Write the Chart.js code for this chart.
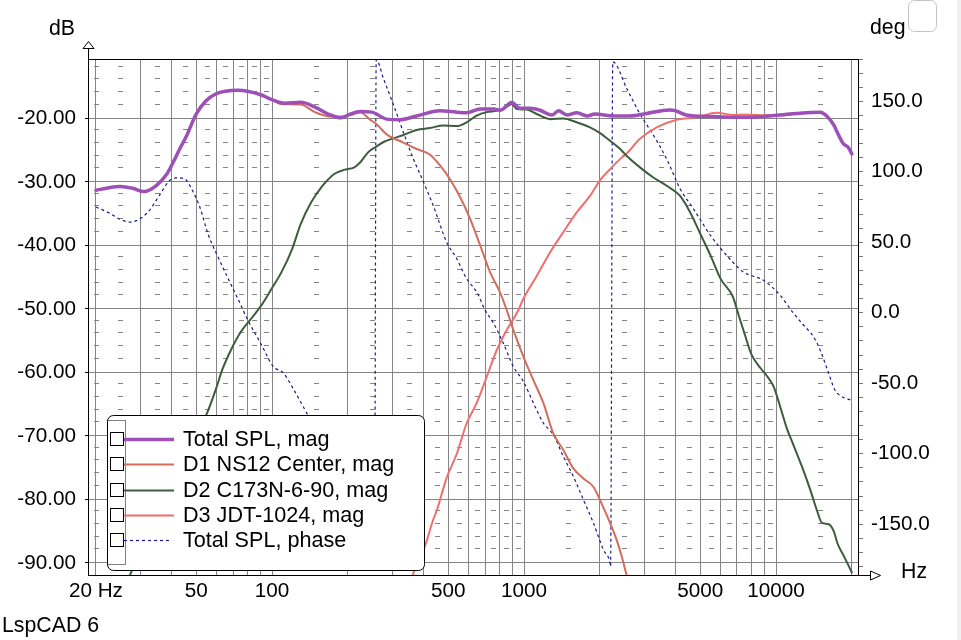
<!DOCTYPE html>
<html>
<head>
<meta charset="utf-8">
<title>LspCAD 6</title>
<script src="https://cdn.jsdelivr.net/npm/chart.js@4.4.1/dist/chart.umd.min.js"></script>
<style>
html, body { margin: 0; padding: 0; background: #fff; }
#wrap { position: relative; width: 961px; height: 640px; overflow: hidden; }
</style>
</head>
<body>
<div id="wrap"><canvas id="chart" width="961" height="640"></canvas></div>
<script>
// оси и сетка
const gridFreqs = [20, 30, 40, 50, 60, 70, 80, 90, 100, 200, 300, 400, 500, 600, 700, 800, 900,
    1000, 2000, 3000, 4000, 5000, 6000, 7000, 8000, 9000, 10000, 20000];
const freqLabelValues = [20, 50, 100, 500, 1000, 5000, 10000];
const freqLabelTexts = ['20 Hz', '50', '100', '500', '1000', '5000', '10000'];
const dBTicks = [-90, -80, -70, -60, -50, -40, -30, -20];
const degTicks = [-180, -170, -160, -150, -140, -130, -120, -110, -100, -90, -80, -70, -60, -50, -40, -30, -20, -10,
    0, 10, 20, 30, 40, 50, 60, 70, 80, 90, 100, 110, 120, 130, 140, 150, 160, 170, 180];
const degLabelValues = [-150, -100, -50, 0, 50, 100, 150];
// мелкие штрихи сетки
const dashFreqs = [20, 25, 35, 45, 55, 65, 75, 85, 95, 150, 250, 350, 450, 550, 650, 750, 850, 950,
    1500, 2500, 3500, 4500, 5500, 6500, 7500, 8500, 9500, 15000];
const dashDb = [-88, -86, -84, -82, -78, -76, -74, -72, -68, -66, -64, -62, -58, -56, -54, -52,
    -48, -46, -44, -42, -38, -36, -34, -32, -28, -26, -24, -22, -18, -16, -14, -12];

// Total SPL, mag
const totalFreq = [20, 22.5, 25, 28, 31, 34.6, 38.3, 40.5, 43, 45.8, 50, 54.7, 60, 65.3, 73.2, 80, 90.8, 99.3,
    112, 130, 148, 167, 188, 204, 224, 249, 285, 322, 375, 464, 541, 592, 669, 760, 803, 894, 964, 1056,
    1157, 1290, 1370, 1480, 1620, 1780, 1910, 2260, 2630, 3060, 3780, 4010, 4400, 5610, 6740, 8110,
    10390, 12090, 14950, 15900, 17000, 17460, 18450, 19400, 20000];
const totalMag = [-31.3, -30.9, -30.7, -31.0, -31.5, -30.6, -28.7, -26.9, -24.8, -22.7, -19.3, -17.2, -16.1, -15.7, -15.55, -15.7, -16.3, -17.0,
    -17.6, -17.45, -18.2, -19.3, -19.9, -19.3, -18.9, -19.0, -20.1, -20.2, -19.6, -18.8, -19.0, -19.1, -18.5, -18.5, -18.7, -17.5, -18.4, -18.4,
    -18.7, -19.45, -18.8, -19.45, -19.1, -19.6, -19.3, -19.6, -19.6, -19.2, -18.65, -18.8, -19.45, -19.7, -19.8, -19.8,
    -19.45, -19.2, -19.0, -19.6, -21.1, -22.1, -23.9, -24.6, -25.6];

// D1 NS12 Center, mag
const d1Freq = [20, 22.5, 25, 28, 31, 34.6, 38.3, 40.5, 43, 45.8, 50, 54.7, 60, 65.3, 73.2, 80, 90.8, 99.3,
    108, 130, 148, 172, 193, 212, 224, 245, 260, 285, 332, 375, 424, 464, 509, 558, 611, 670, 733, 803,
    854, 907, 994, 1089, 1193, 1307, 1432, 1569, 1720, 1884, 2003, 2195, 2333, 2443, 2541, 2620];
const d1Mag = [-31.3, -30.9, -30.7, -31.0, -31.5, -30.6, -28.7, -26.9, -24.8, -22.7, -19.3, -17.2, -16.1, -15.7, -15.55, -15.7, -16.3, -17.0,
    -17.7, -17.8, -19.0, -19.7, -19.65, -19.3, -19.0, -20.2, -20.9, -22.5, -23.8, -24.8, -25.7, -27.4, -29.6, -32.4, -35.8, -40.0, -44.2, -47.4,
    -50.2, -53.3, -57.5, -61.2, -64.8, -69.6, -72.2, -75.1, -76.7, -78.0, -80.1, -83.7, -86.4, -89.0, -91.6, -93.5];

// D2 C173N-6-90, mag
const d2Freq = [26.5, 27.5, 30, 35, 40, 45, 50, 55.2, 60, 63.4, 68.6, 75.2, 82.7, 90.8, 99.3, 109, 120, 130,
    143, 157, 167, 177, 193, 212, 224, 241, 260, 277, 304, 332, 375, 424, 478, 541, 592, 649, 711, 779,
    827, 894, 935, 1025, 1123, 1268, 1432, 1618, 1827, 2003, 2195, 2390, 2557, 2885, 3261, 3684, 4162,
    4566, 5011, 5500, 6037, 6730, 7100, 7530, 8000, 8675, 9220, 9780, 10390, 11040, 11720, 12670,
    13680, 14530, 15220, 16190, 16990, 17530, 18640, 20000];
const d2Mag = [-94, -91.6, -88.5, -83, -78, -73.5, -69.8, -66.4, -62.5, -59.6, -56.5, -53.6, -51.5, -49.4, -46.9, -44.2, -40.6, -36.6,
    -33.2, -30.8, -29.6, -28.7, -28.1, -27.7, -26.9, -25.3, -24.4, -23.7, -23.1, -22.6, -21.8, -21.5, -21.1, -21.2, -20.6, -19.55, -19.0, -18.8,
    -18.5, -17.7, -18.5, -18.6, -19.3, -20.1, -20.0, -20.6, -21.4, -22.3, -23.5, -24.7, -25.9, -27.7, -29.3, -30.6, -32.2,
    -34.8, -38.2, -41.6, -45.3, -48.0, -50.9, -54.1, -57.2, -59.3, -60.6, -62.2, -65.4, -68.8, -71.4, -74.8,
    -78.5, -81.7, -83.7, -83.9, -85.1, -86.9, -89.0, -91.5];

// D3 JDT-1024, mag
const d3Freq = [350, 364, 404, 436, 451, 493, 541, 592, 649, 711, 779, 854, 907, 949, 994, 1123, 1268, 1432,
    1618, 1827, 2003, 2195, 2403, 2557, 2885, 3362, 4036, 4846, 5820, 6780, 7657, 9194, 10390, 12090,
    14950, 15900, 17000, 17460, 18450, 19400, 20000];
const d3Mag = [-95, -91.6, -87.4, -83.2, -81.7, -76.6, -72.8, -68.0, -64.8, -60.7, -56.5, -53.3, -51.6, -50.2, -48.4, -44.8, -41.1, -37.9,
    -34.8, -32.2, -29.7, -28.0, -26.4, -25.5, -23.2, -21.4, -20.2, -19.8, -19.1, -19.45, -19.4, -19.5, -19.5, -19.25,
    -19.05, -19.65, -21.15, -22.15, -23.95, -24.65, -25.65];

// Total SPL, phase (правая ось, градусы)
const phaseFreq = [20, 22.5, 25, 27.4, 29.6, 32.3, 35.7, 39.2, 41.7, 45, 48.3, 51.4, 56, 61.5, 67, 73.2, 80, 90.8,
    101, 111, 122, 135, 160, 200, 230, 255, 259, 277, 304, 332, 364, 399, 436, 493, 541, 592, 649, 700,
    756, 827, 907, 994, 1089, 1193, 1307, 1432, 1569, 1720, 1884, 2064, 2195, 2205, 2250, 2557, 2885,
    3261, 3684, 4162, 4700, 5500, 6378, 7426, 8949, 10390, 11720, 12820, 14060, 14950, 16090, 17110,
    18230, 19730, 20000];
const phaseDeg = [75.0, 70.9, 66.2, 64.3, 66.2, 71.8, 83.2, 93.8, 95.7, 95.0, 86.7, 76.1, 54.8, 38.3, 24.1, 9.9, -5, -22.7,
    -38.1, -42.8, -54.6, -68.8, -92, -128, -155, -181, 179.5, 166, 147, 128, 109, 92.7, 76.1, 50.1, 38.3, 24.1, 14.7, 2.1,
    -7.3, -21.5, -38.1, -48.7, -64, -78.2, -86.5, -101.9, -116, -132.6, -149, -168, -177.5, -180, 178, 159, 141,
    126, 109, 88, 73.8, 54.8, 40.6, 28.9, 22.9, 12.3, -0.2, -8.5, -16.8, -26.2, -41.6, -54.6,
    -59.4, -61.7, -62];

const FONT = "'Liberation Sans', Arial, sans-serif";
Chart.defaults.font.family = FONT;
Chart.defaults.font.size = 20.7;
Chart.defaults.color = '#000';

function toPoints(freqs, values) {
    return freqs.map((f, i) => ({ x: f, y: values[i] }));
}

function roundRect(ctx, x, y, w, h, r) {
    ctx.beginPath();
    ctx.moveTo(x + r, y);
    ctx.lineTo(x + w - r, y);
    ctx.arcTo(x + w, y, x + w, y + r, r);
    ctx.lineTo(x + w, y + h - r);
    ctx.arcTo(x + w, y + h, x + w - r, y + h, r);
    ctx.lineTo(x + r, y + h);
    ctx.arcTo(x, y + h, x, y + h - r, r);
    ctx.lineTo(x, y + r);
    ctx.arcTo(x, y, x + r, y, r);
    ctx.closePath();
}

// штрихи, легенда, рамка и подписи
const decor = {
    id: 'decor',
    beforeDatasetsDraw(chart) {
        const { ctx, scales: { x, y } } = chart;
        ctx.save();
        ctx.strokeStyle = '#858585';
        ctx.lineWidth = 1;
        ctx.beginPath();
        for (const f of dashFreqs) {
            const px = Math.round(x.getPixelForValue(f));
            for (const d of dashDb) {
                const py = Math.round(y.getPixelForValue(d)) - 1.5;
                ctx.moveTo(px - 2, py);
                ctx.lineTo(px + 3, py);
            }
        }
        ctx.stroke();
        ctx.restore();
    },
    afterDatasetsDraw(chart) {
        const ctx = chart.ctx;
        ctx.save();
        roundRect(ctx, 107.5, 415.5, 317, 155, 6);
        ctx.fillStyle = '#fff';
        ctx.fill();
        ctx.strokeStyle = '#000';
        ctx.lineWidth = 1;
        ctx.stroke();
        ctx.setLineDash([1, 1]);
        ctx.strokeRect(107.5, 420.5, 18, 144);
        ctx.setLineDash([]);
        ctx.font = '21.6px ' + FONT;
        ctx.textBaseline = 'middle';
        ctx.textAlign = 'left';
        chart.data.datasets.forEach((ds, i) => {
            const cy = Math.round(439 + i * 25.25) + 0.5;
            ctx.strokeStyle = '#000';
            ctx.lineWidth = 1;
            ctx.setLineDash([]);
            ctx.strokeRect(110.5, cy - 7, 13, 13);
            ctx.strokeStyle = ds.borderColor;
            ctx.lineWidth = ds.borderWidth;
            ctx.setLineDash(ds.borderDash || []);
            ctx.beginPath();
            ctx.moveTo(124, cy);
            ctx.lineTo(ds.borderDash ? 170 : 174, cy);
            ctx.stroke();
            ctx.setLineDash([]);
            ctx.fillStyle = '#000';
            ctx.fillText(ds.label, 183, cy + 1);
        });
        ctx.restore();
    },
    afterDraw(chart) {
        const { ctx, chartArea: a } = chart;
        ctx.save();
        ctx.strokeStyle = '#000';
        ctx.lineWidth = 1;
        ctx.strokeRect(a.left + 0.5, a.top + 0.5, a.right - a.left - 1, a.bottom - a.top);
        // стрелки осей
        ctx.beginPath();
        ctx.moveTo(a.left + 0.5, a.top);
        ctx.lineTo(a.left + 0.5, 48.5);
        ctx.moveTo(a.right, a.bottom + 0.5);
        ctx.lineTo(870.5, a.bottom + 0.5);
        ctx.stroke();
        ctx.fillStyle = '#fff';
        ctx.beginPath();
        ctx.moveTo(a.left + 0.5, 41.5);
        ctx.lineTo(a.left + 6, 48.5);
        ctx.lineTo(a.left - 5, 48.5);
        ctx.closePath();
        ctx.fill();
        ctx.stroke();
        ctx.beginPath();
        ctx.moveTo(870.5, a.bottom - 4);
        ctx.lineTo(880.5, a.bottom + 0.5);
        ctx.lineTo(870.5, a.bottom + 5);
        ctx.closePath();
        ctx.fill();
        ctx.stroke();
        // подписи
        ctx.fillStyle = '#000';
        ctx.font = '21.3px ' + FONT;
        ctx.textBaseline = 'alphabetic';
        ctx.textAlign = 'right';
        ctx.fillText('dB', 75, 35);
        ctx.textAlign = 'left';
        ctx.fillText('deg', 870, 34);
        ctx.fillText('Hz', 901, 578);
        ctx.fillText('LspCAD 6', 2, 632);
        // квадратик справа вверху и полоса
        ctx.strokeStyle = '#c4c4c4';
        roundRect(ctx, 908.5, 0.5, 28, 31, 6);
        ctx.stroke();
        ctx.fillStyle = '#f0f0f0';
        ctx.fillRect(957, 0, 4, 640);
        ctx.restore();
    }
};

new Chart(document.getElementById('chart'), {
    type: 'line',
    data: {
        datasets: [
            { label: 'Total SPL, mag', data: toPoints(totalFreq, totalMag), borderColor: 'rgb(157, 80, 183)', borderWidth: 3.5, yAxisID: 'y' },
            { label: 'D1 NS12 Center, mag', data: toPoints(d1Freq, d1Mag), borderColor: 'rgb(210, 108, 92)', borderWidth: 2, yAxisID: 'y' },
            { label: 'D2 C173N-6-90, mag', data: toPoints(d2Freq, d2Mag), borderColor: 'rgb(62, 92, 62)', borderWidth: 2, yAxisID: 'y' },
            { label: 'D3 JDT-1024, mag', data: toPoints(d3Freq, d3Mag), borderColor: 'rgb(240, 110, 110)', borderWidth: 2, yAxisID: 'y' },
            { label: 'Total SPL, phase', data: toPoints(phaseFreq, phaseDeg), borderColor: 'rgb(26, 26, 140)', borderWidth: 1.2, borderDash: [3, 3], borderCapStyle: 'butt', yAxisID: 'y2' }
        ]
    },
    options: {
        responsive: false,
        animation: false,
        elements: {
            point: { radius: 0 },
            line: { cubicInterpolationMode: 'monotone', borderJoinStyle: 'round', borderCapStyle: 'round', fill: false }
        },
        layout: { padding: { top: 59, left: 0, right: 0, bottom: 0 } },
        plugins: { legend: { display: false }, tooltip: { enabled: false } },
        scales: {
            x: {
                type: 'logarithmic',
                position: 'bottom',
                min: 18.6,
                max: 21350,
                afterBuildTicks: s => { s.ticks = gridFreqs.map(v => ({ value: v })); },
                afterFit: s => { s.height = 65; },
                grid: { color: '#858585', lineWidth: 1, drawTicks: false },
                border: { display: false },
                ticks: {
                    autoSkip: false, maxRotation: 0, padding: 4,
                    callback: v => {
                        const i = freqLabelValues.indexOf(v);
                        return i < 0 ? '' : freqLabelTexts[i];
                    }
                }
            },
            y: {
                type: 'linear',
                position: 'left',
                min: -91.9,
                max: -10.63,
                afterBuildTicks: s => { s.ticks = dBTicks.map(v => ({ value: v })); },
                afterFit: s => { s.width = 88; },
                grid: { color: '#858585', lineWidth: 1, tickColor: '#000', tickLength: 3 },
                border: { display: false },
                ticks: { autoSkip: false, padding: 9, callback: v => v.toFixed(2) }
            },
            y2: {
                type: 'linear',
                position: 'right',
                min: -186,
                max: 180,
                afterBuildTicks: s => { s.ticks = degTicks.map(v => ({ value: v })); },
                afterFit: s => { s.width = 102; },
                grid: { drawOnChartArea: false, tickColor: '#777', tickLength: 4 },
                border: { display: false },
                ticks: {
                    autoSkip: false, padding: 8,
                    callback: v => degLabelValues.includes(v) ? v.toFixed(1) : ''
                }
            }
        }
    },
    plugins: [decor]
});
</script>
</body>
</html>
